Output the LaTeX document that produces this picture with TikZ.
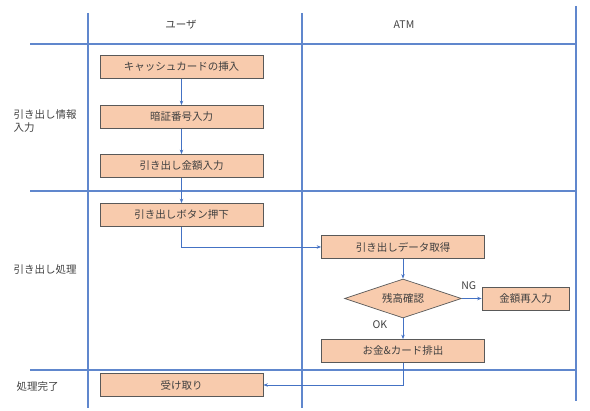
\documentclass[tikz,border=0pt]{standalone}
\usepackage{fontspec}
\setmainfont{Noto Sans CJK JP}
\usetikzlibrary{arrows.meta,shapes.geometric}
\definecolor{lanecol}{HTML}{4472C4}
\definecolor{boxfill}{HTML}{F8CBAD}
\definecolor{boxline}{HTML}{595959}
\definecolor{txtcol}{HTML}{404040}
\begin{document}
\begin{tikzpicture}[x=1pt, y=-1pt, font=\fontsize{10.5}{12.5}\selectfont, text=txtcol,
  >={Stealth[length=4.5pt, width=3.5pt]},
  lane/.style={draw=lanecol!85, line width=1.4pt},
  flow/.style={->, draw=lanecol, line width=0.8pt},
  task/.style={draw=boxline, fill=boxfill, line width=0.7pt, minimum width=163pt, minimum height=23pt, inner sep=0pt},
  judge/.style={diamond, draw=boxline, fill=boxfill, line width=0.7pt, minimum width=117pt, minimum height=39pt, inner sep=0pt, aspect=3}]
  \useasboundingbox (0,0) rectangle (590,411);
  % swimlane frame
  \draw[lane] (88,13) -- (88,408);
  \draw[lane] (302,13) -- (302,408);
  \draw[lane] (576,6) -- (576,401);
  \draw[lane] (30,44) -- (576,44);
  \draw[lane] (30,191) -- (576,191);
  \draw[lane] (30,370) -- (576,370);
  \node (hduser) at (181,25) {ユーザ};
  \node (hdatm) at (404,25) {ATM};
  \node[align=left, anchor=west] (phin) at (10,121) {引き出し情報\\入力};
  \node[anchor=west] (phproc) at (10,270) {引き出し処理};
  \node[anchor=west] (phdone) at (13,387) {処理完了};
  % user lane
  \node[task] (card) at (181.5,67) {キャッシュカードの挿入};
  \node[task] (pin) at (181.5,117) {暗証番号入力};
  \node[task] (amount) at (181.5,166) {引き出し金額入力};
  \node[task] (press) at (181.5,215) {引き出しボタン押下};
  \node[task] (recv) at (181.5,385) {受け取り};
  % atm lane
  \node[task] (fetch) at (403,247) {引き出しデータ取得};
  \node[judge] (check) at (403,298.5) {残高確認};
  \node[task, minimum width=87pt] (reinput) at (525.5,298.5) {金額再入力};
  \node[task] (dispense) at (403,351) {お金\&カード排出};
  \draw[flow] (card) -- (pin);
  \draw[flow] (pin) -- (amount);
  \draw[flow] (amount) -- (press);
  \draw[flow] (press.south) |- (fetch.west);
  \draw[flow] (fetch) -- (check);
  \draw[flow] (check) -- (reinput) node[pos=0.35, above=5pt] {NG};
  \draw[flow] (check) -- (dispense) node[pos=0.3, left=12pt] {OK};
  \draw[flow] (dispense.south) |- (recv.east);
\end{tikzpicture}
\end{document}
